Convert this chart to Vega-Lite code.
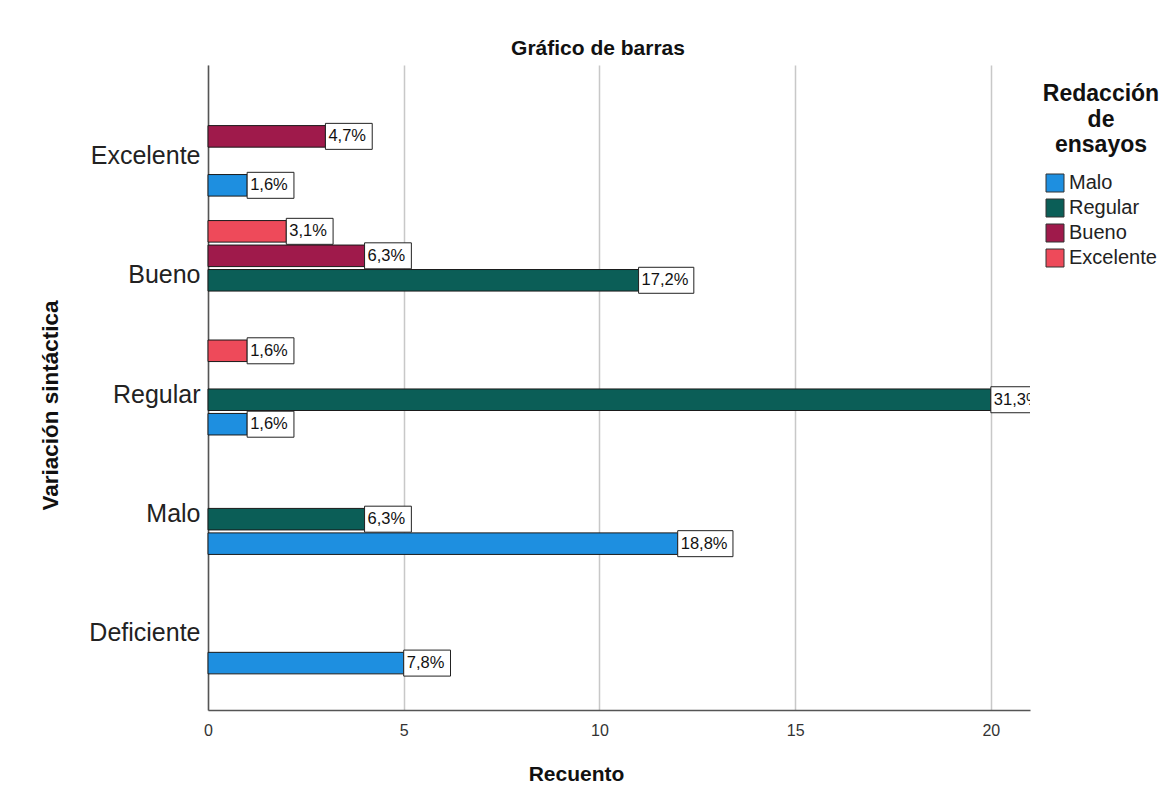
{
  "$schema": "https://vega.github.io/schema/vega-lite/v6.json",
  "autosize": {"type": "none"},
  "width": 822,
  "height": 645,
  "padding": {"left": 208, "top": 65, "right": 140, "bottom": 86},
  "background": "white",
  "title": {"text": "Gráfico de barras", "fontSize": 21, "fontWeight": "bold", "anchor": "middle", "dx": -21, "offset": 6, "color": "#111111"},
  "data": {"values": [
    {"var": "Excelente", "red": "Malo", "n": 1, "pct": "1,6%"},
    {"var": "Excelente", "red": "Bueno", "n": 3, "pct": "4,7%"},
    {"var": "Bueno", "red": "Regular", "n": 11, "pct": "17,2%"},
    {"var": "Bueno", "red": "Bueno", "n": 4, "pct": "6,3%"},
    {"var": "Bueno", "red": "Excelente", "n": 2, "pct": "3,1%"},
    {"var": "Regular", "red": "Malo", "n": 1, "pct": "1,6%"},
    {"var": "Regular", "red": "Regular", "n": 20, "pct": "31,3%"},
    {"var": "Regular", "red": "Excelente", "n": 1, "pct": "1,6%"},
    {"var": "Malo", "red": "Malo", "n": 12, "pct": "18,8%"},
    {"var": "Malo", "red": "Regular", "n": 4, "pct": "6,3%"},
    {"var": "Deficiente", "red": "Malo", "n": 5, "pct": "7,8%"}
  ]},
  "encoding": {
    "y": {"field": "var", "type": "nominal",
      "scale": {"type": "band", "domain": ["Excelente", "Bueno", "Regular", "Malo", "Deficiente"], "paddingInner": 0, "paddingOuter": 0.2},
      "axis": {"title": "Variación sintáctica", "titleFontSize": 22.5, "titleFontWeight": "bold", "titleColor": "#111111", "titlePadding": 26, "titleY": 340,
        "labelFontSize": 25, "labelColor": "#222222", "labelPadding": 8, "labelOffset": 7, "ticks": false, "tickSize": 0,
        "domain": true, "domainColor": "#555555", "domainWidth": 1.5, "grid": false}},
    "yOffset": {"field": "red", "type": "nominal",
      "scale": {"type": "band", "domain": ["Excelente", "Bueno", "Regular", "Malo"], "paddingInner": 0.12, "paddingOuter": 0.5}},
    "x": {"field": "n", "type": "quantitative",
      "scale": {"domain": [0, 21], "nice": false, "zero": true},
      "axis": {"title": "Recuento", "titleFontSize": 21, "titleFontWeight": "bold", "titleColor": "#111111", "titlePadding": 25, "titleX": 368,
        "values": [0, 5, 10, 15, 20], "labelFontSize": 16, "labelColor": "#333333", "labelPadding": 12, "labelFlush": false, "ticks": false, "tickSize": 0,
        "grid": true, "gridColor": "#c8c8c8", "gridWidth": 1.5, "domain": true, "domainColor": "#555555", "domainWidth": 1.5}}
  },
  "layer": [
    {
      "mark": {"type": "bar", "stroke": "#1a1a1a", "strokeWidth": 1},
      "encoding": {
        "color": {"field": "red", "type": "nominal",
          "scale": {"domain": ["Malo", "Regular", "Bueno", "Excelente"], "range": ["#1E8FE0", "#0B5E57", "#9F1A4B", "#EE4A5A"]},
          "legend": {"title": ["Redacción", "de", "ensayos"], "orient": "none", "legendX": 835, "legendY": 18,
            "titleFontSize": 23, "titleFontWeight": "bold", "titleColor": "#111111", "titleLineHeight": 25.5, "titleAnchor": "middle", "titleAlign": "center", "titlePadding": 16,
            "labelFontSize": 20, "labelColor": "#222222", "symbolType": "square", "symbolSize": 324, "symbolStrokeColor": "#333333", "symbolStrokeWidth": 1, "rowPadding": 3, "labelOffset": 4}}
      }
    },
    {
      "mark": {"type": "point", "filled": true, "fill": "white", "stroke": "#222222", "strokeWidth": 1, "opacity": 1, "size": 676, "clip": true},
      "encoding": {
        "shape": {"condition": {"test": "datum.n >= 10", "value": "M0,-1H4.25V1H0Z"}, "value": "M0,-1H3.6V1H0Z"}
      }
    },
    {
      "mark": {"type": "text", "align": "left", "baseline": "middle", "dx": 3, "fontSize": 16.5, "color": "#111111", "clip": true},
      "encoding": {"text": {"field": "pct", "type": "nominal"}}
    }
  ],
  "config": {"font": "Liberation Sans", "view": {"stroke": null}}
}
